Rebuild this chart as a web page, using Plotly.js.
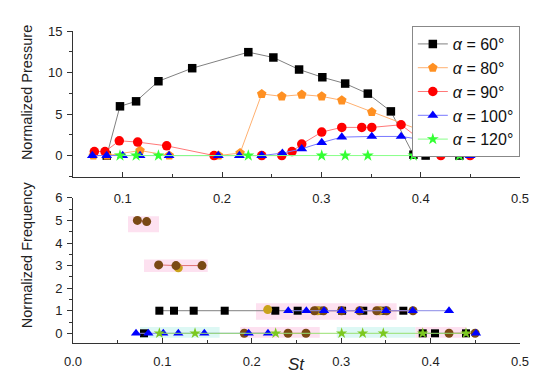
<!DOCTYPE html>
<html>
<head>
<meta charset="utf-8">
<script src="https://cdn.plot.ly/plotly-3.0.1.min.js"></script>
<style>html,body{margin:0;padding:0;background:#fff;}#chart{width:550px;height:389px;}</style>
</head>
<body>
<div id="chart"></div>
<script>
// ---------- Top panel: Normalized Pressure vs St ----------
const legendNames = ['<i>α</i> = 60°', '<i>α</i> = 80°', '<i>α</i> = 90°', '<i>α</i> = 100°', '<i>α</i> = 120°'];

const st60 = [0.084, 0.0973, 0.1135, 0.136, 0.170, 0.2265, 0.2517, 0.2776, 0.301, 0.324, 0.3468, 0.370, 0.3927, 0.405, 0.439];
const p60  = [0, 5.93, 6.53, 8.95, 10.52, 12.45, 11.81, 10.36, 9.43, 8.67, 7.46, 5.32, 0.1, 0, 0];

const st80 = [0.0705, 0.0843, 0.1175, 0.1469, 0.1965, 0.2182, 0.240, 0.2602, 0.2803, 0.3004, 0.3206, 0.3508, 0.4203, 0.4498];
const p80  = [0, 0, 0.6, 0, 0, 0.3, 7.42, 7.13, 7.34, 7.13, 6.65, 5.25, 2.1, 0.08];

const st90 = [0.0715, 0.0822, 0.0966, 0.1151, 0.1443, 0.192, 0.24, 0.2602, 0.2705, 0.2803, 0.3004, 0.3206, 0.3407, 0.3508, 0.3803, 0.4203, 0.4498];
const p90  = [0.48, 0.48, 1.78, 1.62, 1.17, 0, 0, 0, 0.48, 1.38, 2.83, 3.39, 3.39, 3.39, 3.71, 0, 0];

const st100 = [0.0695, 0.0839, 0.1, 0.1175, 0.1467, 0.1963, 0.2175, 0.24, 0.2608, 0.2803, 0.3004, 0.3206, 0.3508, 0.3803, 0.4203, 0.4498];
const p100  = [0, 0, 0, 0, 0, 0, 0, 0, 0.29, 0.81, 1.57, 2.22, 2.3, 2.3, 1.57, 0];

const st120 = [0.0973, 0.1135, 0.136, 0.2265, 0.3004, 0.324, 0.3468, 0.3927, 0.439];
const p120  = [0, 0, 0, 0, 0, 0, 0, 0, 0];

// ---------- Bottom panel: Normalized Frequency vs St ----------
const bst60 = [0.0794, 0.0966, 0.113, 0.135, 0.1697, 0.2263, 0.2513, 0.2744, 0.301, 0.3247, 0.347, 0.3695, 0.3912, 0.4049, 0.4396];
const bf60  = [0, 1, 1, 1, 1, 1, 1, 1, 1, 1, 1, 1, 0, 0, 0];

const bst80 = [0.1178, 0.2178, 0.2737, 0.3427];
const bf80  = [2.9, 1.05, 1, 1];

const bst90 = [0.0720, 0.0824, 0.0958, 0.1152, 0.1443, 0.1916, 0.2405, 0.2606, 0.2700, 0.2803, 0.3004, 0.3206, 0.3397, 0.3508, 0.3803, 0.4206, 0.4498];
const bf90  = [5, 4.95, 3.03, 3.0, 3.0, 0, 0, 0, 1, 1, 1, 1, 1, 1, 1, 0, 0];

const bst100 = [0.0705, 0.0843, 0.101, 0.1178, 0.1469, 0.1965, 0.2181, 0.2408, 0.2610, 0.2808, 0.3005, 0.3203, 0.3501, 0.3800, 0.4206, 0.4508];
const bf100  = [0, 0, 0, 0, 0, 0, 0, 1, 1, 1, 1, 1, 1, 1, 1, 0];

const bst120 = [0.0966, 0.1365, 0.2267, 0.3005, 0.324, 0.3471, 0.3912, 0.4396];
const bf120  = [0, 0, 0, 0, 0, 0, 0, 0];

// highlight bands in the bottom panel
const bandSt0 = [0.0615, 0.0794, 0.2047, 0.075, 0.187, 0.295, 0.383];
const bandSt1 = [0.0962, 0.1507, 0.362, 0.164, 0.276, 0.383, 0.44];
const bandF0  = [4.48, 2.71, 0.6, -0.2, -0.2, -0.2, -0.2];
const bandF1  = [5.19, 3.27, 1.33, 0.28, 0.28, 0.28, 0.28];
const bandKind = ['p', 'p', 'p', 'c', 'p', 'c', 'p'];

// ---------- styles ----------
const markerCol = ['#000000', '#ff9022', '#ff0000', '#0000ff', '#33ff33'];
const lineCol   = ['#808080', '#ffb070', '#ff7878', '#7878ff', '#88ff88'];
const symbols   = ['square', 'pentagon', 'circle', 'triangle-up', 'star'];
const msize     = [8.5, 10, 9.5, 9.5, 9];

const bMarkerCol = ['#000000', '#c9a21c', '#7a4a14', '#0000ff', '#7cc820'];
const bLineCol   = ['#808080', '#c9a21c', '#e07070', '#8a8ae6', '#98e070'];

const topSt = [st60, st80, st90, st100, st120];
const topP  = [p60, p80, p90, p100, p120];
const botSt = [bst60, bst80, bst90, bst100, bst120];
const botF  = [bf60, bf80, bf90, bf100, bf120];

// break bottom lines where the frequency level changes
function segmented(xs, ys) {
  const X = [], Y = [];
  for (let i = 0; i < xs.length; i++) {
    if (i > 0 && Math.round(ys[i]) !== Math.round(ys[i - 1])) { X.push(null); Y.push(null); }
    X.push(xs[i]); Y.push(ys[i]);
  }
  return {X, Y};
}

const traces = [];
for (let k = 0; k < 5; k++) {
  traces.push({
    x: topSt[k], y: topP[k], name: legendNames[k], type: 'scatter', mode: 'lines+markers',
    xaxis: 'x', yaxis: 'y',
    line: {color: lineCol[k], width: 1},
    marker: {symbol: symbols[k], size: msize[k], color: markerCol[k]},
    cliponaxis: false
  });
}
for (let k = 0; k < 5; k++) {
  const s = segmented(botSt[k], botF[k]);
  const sym = k === 1 ? 2 : k;
  traces.push({
    x: s.X, y: s.Y, type: 'scatter', mode: k === 1 ? 'markers' : 'lines+markers',
    xaxis: 'x2', yaxis: 'y2', showlegend: false, connectgaps: false,
    line: {color: bLineCol[k], width: 1},
    marker: {symbol: symbols[sym], size: msize[sym] - 0.5, color: bMarkerCol[k]},
    cliponaxis: false
  });
}

const shapes = bandSt0.map((x0, i) => ({
  type: 'rect', xref: 'x2', yref: 'y2', layer: 'below',
  x0: x0, x1: bandSt1[i], y0: bandF0[i], y1: bandF1[i],
  fillcolor: bandKind[i] === 'p' ? '#fde1f0' : '#ddf8f4', line: {width: 0}
}));

const tickFont = {family: 'Liberation Sans, Arial, sans-serif', size: 13, color: '#222'};
const axisCommon = {
  showline: true, linecolor: '#333', linewidth: 1, showgrid: false, zeroline: false,
  tickfont: tickFont, tickcolor: '#333', tickwidth: 1
};

const layout = {
  width: 550, height: 389,
  margin: {l: 73, r: 30, t: 31, b: 46.3},
  paper_bgcolor: '#fff', plot_bgcolor: '#fff',
  font: {family: 'Liberation Sans, Arial, sans-serif', color: '#222'},
  showlegend: true,
  legend: {
    x: 0.758, y: 1.016, xanchor: 'left', yanchor: 'top',
    bordercolor: '#888', borderwidth: 1, bgcolor: '#fff',
    font: {family: 'Liberation Sans, Arial, sans-serif', size: 16, color: '#111'},
    tracegroupgap: 0, itemwidth: 30
  },
  xaxis: Object.assign({}, axisCommon, {
    domain: [0, 1], range: [0.05, 0.5], anchor: 'y',
    tick0: 0, dtick: 0.1, ticks: 'inside', ticklen: 5, tickformat: '.1f',
    minor: {dtick: 0.05, tick0: 0, ticks: 'inside', ticklen: 3, tickcolor: '#333'},
    ticklabelstandoff: 9
  }),
  yaxis: Object.assign({}, axisCommon, {
    domain: [0.5316, 1], range: [-2.6, 15], anchor: 'x',
    tick0: 0, dtick: 5, ticks: 'outside', ticklen: 5,
    minor: {dtick: 2.5, tick0: 0, ticks: 'outside', ticklen: 3, tickcolor: '#333'},
    ticklabelstandoff: 2
  }),
  xaxis2: Object.assign({}, axisCommon, {
    domain: [0, 1], range: [0, 0.5], anchor: 'y2',
    tick0: 0, dtick: 0.1, ticks: 'inside', ticklen: 5, tickformat: '.1f',
    minor: {dtick: 0.05, tick0: 0, ticks: 'inside', ticklen: 3, tickcolor: '#333'},
    ticklabelstandoff: 6
  }),
  yaxis2: Object.assign({}, axisCommon, {
    domain: [0, 0.4652], range: [-0.43, 6], anchor: 'x2',
    tick0: 0, dtick: 1, ticks: 'outside', ticklen: 5,
    minor: {dtick: 0.5, tick0: 0, ticks: 'outside', ticklen: 3, tickcolor: '#333'},
    ticklabelstandoff: 2
  }),
  shapes: shapes,
  annotations: [
    {text: 'Normalized Pressure', xref: 'paper', yref: 'paper', x: -0.103, y: 0.804,
     xanchor: 'center', yanchor: 'middle', textangle: -90, showarrow: false,
     font: {family: 'Liberation Sans, Arial, sans-serif', size: 14.5, color: '#222'}},
    {text: 'Normalized Frequency', xref: 'paper', yref: 'paper', x: -0.103, y: 0.2846,
     xanchor: 'center', yanchor: 'middle', textangle: -90, showarrow: false,
     font: {family: 'Liberation Sans, Arial, sans-serif', size: 14.5, color: '#222'}},
    {text: '<i>St</i>', xref: 'paper', yref: 'paper', x: 0.5, y: -0.07,
     xanchor: 'center', yanchor: 'middle', showarrow: false,
     font: {family: 'Liberation Sans, Arial, sans-serif', size: 17, color: '#222'}}
  ]
};

Plotly.newPlot('chart', traces, layout, {displayModeBar: false, staticPlot: true});
</script>
</body>
</html>
